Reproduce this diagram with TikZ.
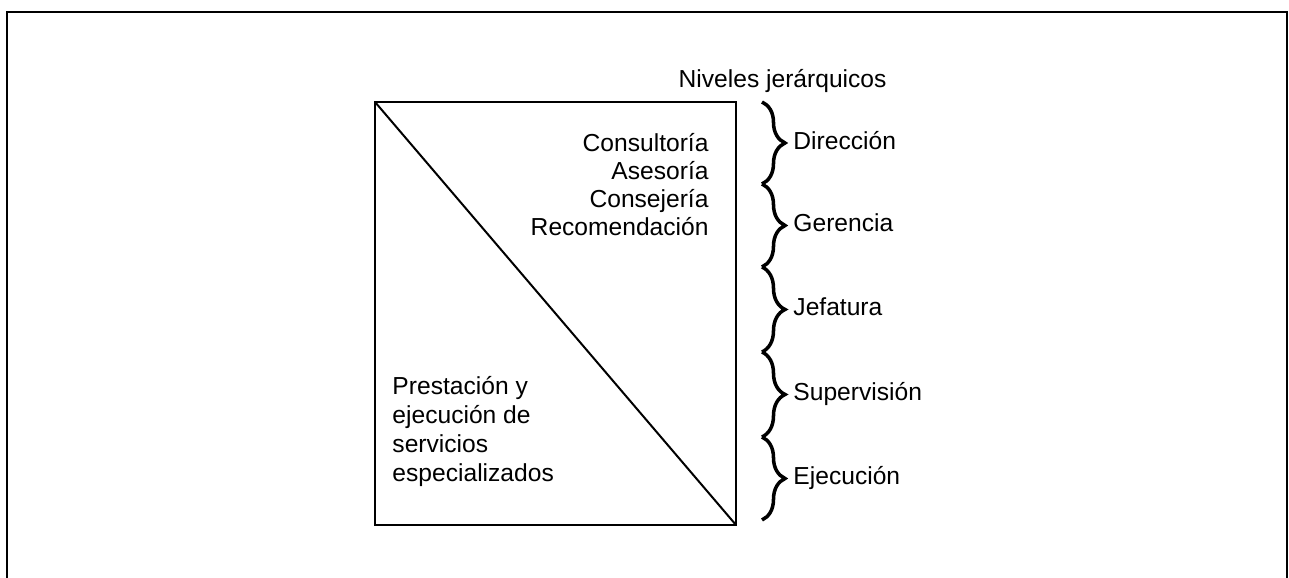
\documentclass[tikz,border=0pt]{standalone}
\usepackage{fontspec}
\setmainfont{Liberation Sans}
\usetikzlibrary{decorations.pathreplacing}

\begin{document}
\begin{tikzpicture}[
        font=\fontsize{10.5}{12}\selectfont,
        marco/.style={line width=1pt},
        cuadro/.style={line width=0.85pt},
        llave/.style={decorate, decoration={brace, amplitude=0.345cm}, line width=1.5pt},
        texto/.style={inner sep=0pt}
    ]
        \useasboundingbox (0,0) rectangle (19.335,8.67);

        % --- Marco exterior ---
        \draw[marco] (0.105,0) |- (19.305,8.49) -- (19.305,0);

        % --- Cuadro con diagonal ---
        \coordinate (A) at (5.625,7.14); % Esquina superior izquierda
        \coordinate (B) at (11.04,0.795); % Esquina inferior derecha
        \draw[cuadro] (A) rectangle (B);
        \draw[cuadro] (A) -- (B);

        % Textos dentro del cuadro
        \node[texto, align=right, anchor=north east] (staff) at (10.635,6.68)
            {Consultoría\\Asesoría\\Consejería\\Recomendación};
        \node[texto, align=left, anchor=north west, font=\fontsize{10.5}{12.4}\selectfont] (linea) at (5.88,3.03)
            {Prestación y\\ejecución de\\servicios\\especializados};

        % --- Niveles jerárquicos ---
        \node[texto, anchor=base east] (niveles) at (13.305,7.35) {Niveles jerárquicos};

        \foreach \nombre/\arriba/\abajo/\nivel in {dir/7.14/5.91/Dirección,
                ger/5.91/4.665/Gerencia, jef/4.665/3.39/Jefatura,
                sup/3.39/2.115/Supervisión, eje/2.115/0.87/Ejecución}{
            \draw[llave] (11.43,\arriba) -- (11.43,\abajo);
            \node[texto, anchor=mid west] (\nombre) at (11.895,{(\arriba+\abajo)/2}) {\nivel};
        }

    \end{tikzpicture}
\end{document}
